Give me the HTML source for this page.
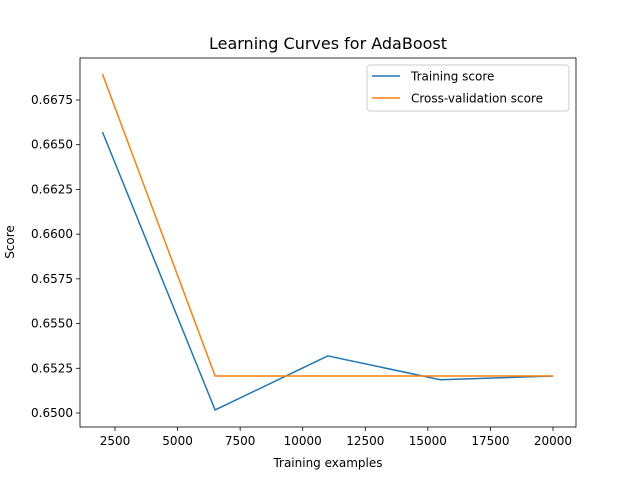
<!DOCTYPE html>
<html><head><meta charset="utf-8"><style>
body{margin:0;background:#fff;}
svg{font-family:"DejaVu Sans","Liberation Sans",sans-serif;}
</style></head><body>
<svg id="chart" width="640" height="480"></svg>
<script>
const sizes=[2000,6500,11000,15500,20000];
const trainScores=[0.66571,0.65017,0.65319,0.65186,0.65207];
const cvScores=[0.66895,0.65207,0.65207,0.65207,0.65207];
const xTicks=[2500,5000,7500,10000,12500,15000,17500,20000];
const yTicks=[0.6500,0.6525,0.6550,0.6575,0.6600,0.6625,0.6650,0.6675];

const L=80,R=576,T=58,B=427;
function xs(v){return 115+(v-2500)/2500*62.571;}
function ys(v){return 413-(v-0.65)/0.0025*44.714;}
const NS="http://www.w3.org/2000/svg";
const svg=document.getElementById('chart');
function mk(tag,attrs,parent){const e=document.createElementNS(NS,tag);for(const k in attrs)e.setAttribute(k,attrs[k]);(parent||svg).appendChild(e);return e;}

const title=mk('text',{x:328,y:49,'text-anchor':'middle','font-size':16,fill:'#000'});
title.textContent='Learning Curves for AdaBoost';



xTicks.forEach(t=>{
  const x=xs(t);
  const tk=mk('line',{x1:x,x2:x,y1:B,y2:B+4,stroke:'#000','stroke-width':0.8});
  
  
  const tx=mk('text',{x:x,y:B+18,'text-anchor':'middle','font-size':12});
  tx.textContent=t;
  
  
});
yTicks.forEach(t=>{
  const y=ys(t);
  const tk=mk('line',{x1:L-4,x2:L,y1:y,y2:y,stroke:'#000','stroke-width':0.8});
  
  
  const tx=mk('text',{x:L-7,y:y+4,'text-anchor':'end','font-size':12});
  tx.textContent=t.toFixed(4);
  
  
});

function line(vals,color,name){
  const p=mk('polyline',{points:sizes.map((s,i)=>xs(s)+','+ys(vals[i])).join(' '),fill:'none',stroke:color,'stroke-width':1.5});
  
  
}
line(trainScores,'#1f77b4','training-score-line');
line(cvScores,'#ff7f0e','cv-score-line');

const frame=mk('rect',{x:L,y:T,width:R-L,height:B-T,fill:'none',stroke:'#000','stroke-width':0.8});



const xl=mk('text',{x:328,y:467,'text-anchor':'middle','font-size':12});
xl.textContent='Training examples';


const yl=mk('text',{x:0,y:0,'text-anchor':'middle','font-size':12,transform:'translate(14,242) rotate(-90)'});
yl.textContent='Score';



const lg=mk('g',{});


mk('rect',{x:367,y:65,width:202,height:46,rx:3,fill:'#fff',stroke:'#ccc','stroke-width':1},lg);
[['Training score','#1f77b4',76],['Cross-validation score','#ff7f0e',98]].forEach(([lab,c,y])=>{
  mk('line',{x1:372,x2:400,y1:y,y2:y,stroke:c,'stroke-width':1.5},lg);
  const t=mk('text',{x:411,y:y+4.5,'font-size':12},lg);
  t.textContent=lab;
  
  
});
</script>
</body></html>
